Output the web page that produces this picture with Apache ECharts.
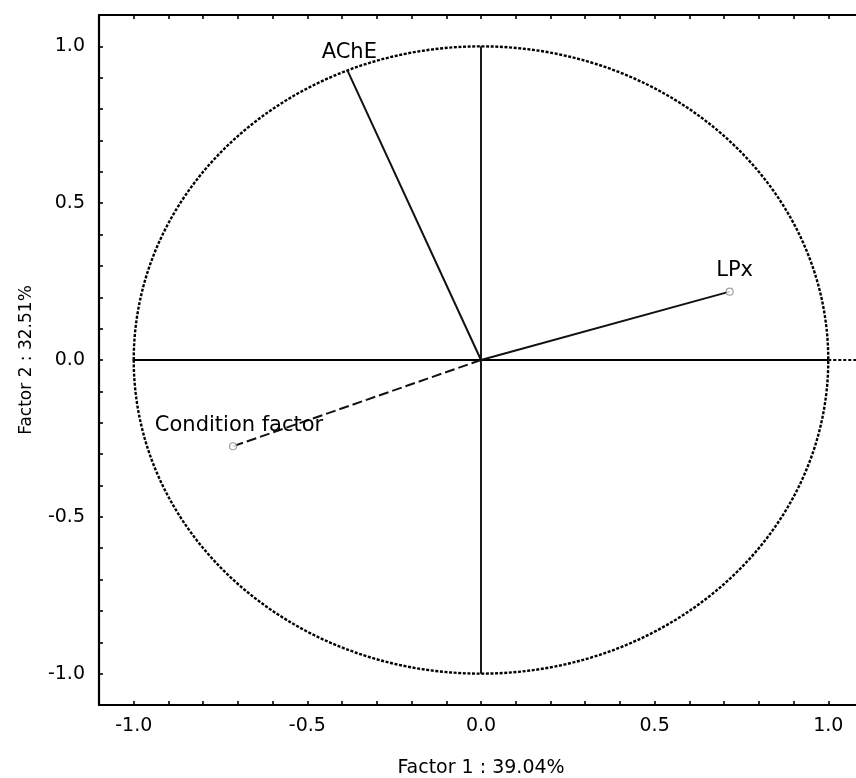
<!DOCTYPE html>
<html>
<head>
<meta charset="utf-8">
<script src="https://cdn.jsdelivr.net/npm/echarts@6/dist/echarts.min.js"></script>
<style>html,body{margin:0;padding:0;background:#fff;}#main{width:856px;height:778px;}</style>
</head>
<body>
<div id="main"></div>
<script>
// Variables and their loadings on the two factors
const variables = ['AChE', 'LPx', 'Condition factor'];
const factor1 = [-0.385, 0.716, -0.714];
const factor2 = [0.924, 0.218, -0.275];
const lineStyles = ['solid', 'solid', 'dashed'];
const showMarker = [false, true, true];
const labelOffsetX = [2, 5, 6];

// Axis ticks
const majorTicks = [-1.0, -0.5, 0.0, 0.5, 1.0];
const minorTicks = [-1.0, -0.9, -0.8, -0.7, -0.6, -0.5, -0.4, -0.3, -0.2, -0.1, 0.0,
                    0.1, 0.2, 0.3, 0.4, 0.5, 0.6, 0.7, 0.8, 0.9, 1.0];
const axisMin = -1.1, axisMax = 1.1;
const xTitle = 'Factor 1 : 39.04%';
const yTitle = 'Factor 2 : 32.51%';

const FONT = 'DejaVu Sans';
const chart = echarts.init(document.getElementById('main'));

function axisBase(extra) {
  return Object.assign({
    type: 'value', min: axisMin, max: axisMax,
    axisLine: { show: true, onZero: false, lineStyle: { color: '#000', width: 2.2 } },
    axisTick: { show: true, inside: true, length: 4, customValues: minorTicks, lineStyle: { color: '#000', width: 1.6 } },
    minorTick: { show: false },
    splitLine: { show: false },
    axisLabel: { show: false }
  }, extra);
}

const series = [];
// Unit circle (correlation circle) through axis scales
series.push({
  type: 'custom', xAxisIndex: 0, yAxisIndex: 0, silent: true, z: 1,
  data: [[0, 0]],
  renderItem: function (params, api) {
    const c = api.coord([0, 0]);
    const rx = api.size([1, 0])[0];
    const ry = api.size([0, 1])[1];
    return { type: 'ellipse', shape: { cx: c[0], cy: c[1], rx: rx, ry: ry },
      style: { fill: 'none', stroke: '#000', lineWidth: 2.4, lineDash: [3, 1.6] } };
  }
});
// Reference axes through origin
series.push({ type: 'line', data: [[-1, 0], [1, 0]], symbol: 'none', silent: true,
  lineStyle: { color: '#000', width: 1.8 }, z: 2 });
series.push({ type: 'line', data: [[1, 0], [axisMax, 0]], symbol: 'none', silent: true,
  lineStyle: { color: '#000', width: 2.2, type: [3, 2] }, z: 2 });
series.push({ type: 'line', data: [[0, -1], [0, 1]], symbol: 'none', silent: true,
  lineStyle: { color: '#000', width: 1.8 }, z: 2 });
// Vectors
for (let i = 0; i < variables.length; i++) {
  series.push({
    type: 'line', data: [[0, 0], [factor1[i], factor2[i]]], symbol: 'none', silent: true,
    lineStyle: { color: '#111', width: 2, type: lineStyles[i] === 'dashed' ? [10, 4] : 'solid' }, z: 3
  });
}
// Endpoints with labels
series.push({
  type: 'scatter', z: 4, silent: true,
  data: variables.map((v, i) => ({
    value: [factor1[i], factor2[i]], name: v,
    symbolSize: showMarker[i] ? 7 : 1,
    itemStyle: showMarker[i] ? {} : { color: 'rgba(0,0,0,0)', borderColor: 'rgba(0,0,0,0)' },
    label: { offset: [labelOffsetX[i], 0] }
  })),
  itemStyle: { color: '#fff', borderColor: '#888', borderWidth: 1.2 },
  label: { show: true, position: 'top', distance: 6, formatter: p => p.name,
    fontFamily: FONT, fontSize: 21, color: '#000', opacity: 1 }
});

chart.setOption({
  backgroundColor: '#fff',
  animation: false,
  grid: { left: 99, top: 15, width: 764, height: 690, containLabel: false, outerBoundsMode: 'none' },
  xAxis: [
    axisBase({ position: 'bottom',
      name: xTitle, nameLocation: 'middle', nameGap: 54,
      nameTextStyle: { fontFamily: FONT, fontSize: 19, color: '#000' },
      axisLabel: { show: true, customValues: majorTicks, margin: 12, formatter: v => v.toFixed(1),
        fontFamily: FONT, fontSize: 19, color: '#000' } }),
    axisBase({ position: 'top' })
  ],
  yAxis: [
    axisBase({ position: 'left',
      name: yTitle, nameLocation: 'middle', nameGap: 64,
      nameTextStyle: { fontFamily: FONT, fontSize: 17, color: '#000' },
      axisLabel: { show: true, customValues: majorTicks, margin: 14, formatter: v => v.toFixed(1),
        fontFamily: FONT, fontSize: 19, color: '#000' } }),
    axisBase({ position: 'right' })
  ],
  series: series
});
</script>
</body>
</html>
